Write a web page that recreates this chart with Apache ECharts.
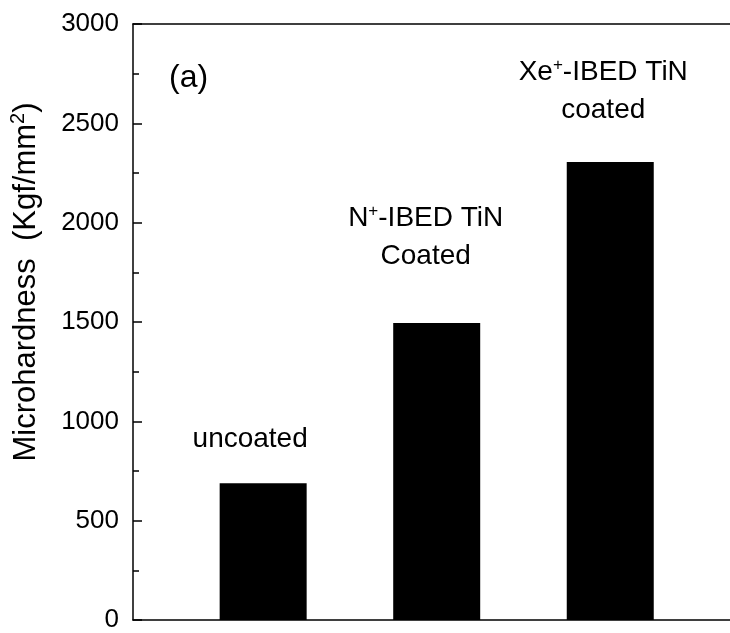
<!DOCTYPE html>
<html>
<head>
<meta charset="utf-8">
<script src="https://cdn.jsdelivr.net/npm/echarts@6/dist/echarts.min.js"></script>
<style>
html,body{margin:0;padding:0;background:#fff;}
#chart{width:730px;height:633px;}
</style>
</head>
<body>
<div id="chart"></div>
<script>
// ---- data ----
const categories = ['uncoated', 'N+-IBED TiN Coated', 'Xe+-IBED TiN coated'];
const positions = [1, 2, 3];
const hardness = [688, 1495, 2305];
const yTickValues = [0, 500, 1000, 1500, 2000, 2500, 3000];
const panelLabel = '(a)';
const yAxisTitle = 'Microhardness  (Kgf/mm';

// rich label text per bar
const labelTexts = [
  '{t|uncoated}',
  '{t|N}{s|+}{t|-IBED TiN}\n{t|Coated}',
  '{t|Xe}{s|+}{t|-IBED TiN}\n{t|coated}'
];
const labelDistances = [25, 48, 33];
const labelOffsets = [[-13, 0], [-11, 0], [-7, 0]];

const FONT = '"Liberation Sans", Arial, Helvetica, sans-serif';

const chart = echarts.init(document.getElementById('chart'), null, {renderer: 'canvas'});

const barData = positions.map((p, i) => ({
  value: [p, hardness[i]],
  name: categories[i],
  label: {
    show: true,
    position: 'top',
    distance: labelDistances[i],
    offset: labelOffsets[i],
    formatter: labelTexts[i],
    align: 'center',
    rich: {
      t: {fontSize: 28, lineHeight: 38, color: '#000', fontFamily: FONT},
      s: {fontSize: 17, lineHeight: 17, verticalAlign: 'top', color: '#000', fontFamily: FONT, padding: [4, 0, 0, 0]}
    }
  }
}));

const xRange = {min: 0.25, max: 3.69};

chart.setOption({
  animation: false,
  backgroundColor: '#fff',
  title: {
    text: panelLabel,
    left: 164,
    top: 57,
    textStyle: {fontSize: 32, fontWeight: 'normal', color: '#000', fontFamily: FONT}
  },
  grid: {
    left: 133, top: 24, bottom: 9, right: 0,
    show: false,
    containLabel: false
  },
  xAxis: [{
    type: 'value',
    position: 'bottom',
    min: xRange.min, max: xRange.max,
    axisLine: {show: true, onZero: false, lineStyle: {color: '#000', width: 1.5}},
    axisTick: {show: false},
    axisLabel: {show: false},
    splitLine: {show: false}
  }, {
    type: 'value',
    position: 'top',
    min: xRange.min, max: xRange.max,
    axisLine: {show: true, onZero: false, lineStyle: {color: '#000', width: 1.5}},
    axisTick: {show: false},
    axisLabel: {show: false},
    splitLine: {show: false}
  }],
  yAxis: {
    type: 'value',
    min: yTickValues[0],
    max: yTickValues[yTickValues.length - 1],
    interval: yTickValues[1] - yTickValues[0],
    name: '{t|' + yAxisTitle + '}{s|2}{t|)}',
    nameLocation: 'middle',
    nameGap: 89,
    nameRotate: 90,
    nameTextStyle: {
      padding: [0, 0, 0, 80],
      rich: {
        t: {fontSize: 31, color: '#000', fontFamily: FONT, lineHeight: 36},
        s: {fontSize: 20, color: '#000', fontFamily: FONT, lineHeight: 20, verticalAlign: 'top', padding: [0, 0, 0, 0]}
      }
    },
    axisLine: {show: true, onZero: false, lineStyle: {color: '#000', width: 1.5}},
    axisTick: {show: true, inside: true, length: 9, lineStyle: {color: '#000', width: 1.5}},
    minorTick: {show: true, splitNumber: 2, length: 6, lineStyle: {color: '#000', width: 1.5}},
    axisLabel: {show: true, fontSize: 26, color: '#000', margin: 14, fontFamily: FONT,
      formatter: function (v) { return String(v); }},
    splitLine: {show: false}
  },
  series: [{
    type: 'bar',
    xAxisIndex: 0,
    data: barData,
    barWidth: 87,
    itemStyle: {color: '#000'}
  }]
});
</script>
</body>
</html>
